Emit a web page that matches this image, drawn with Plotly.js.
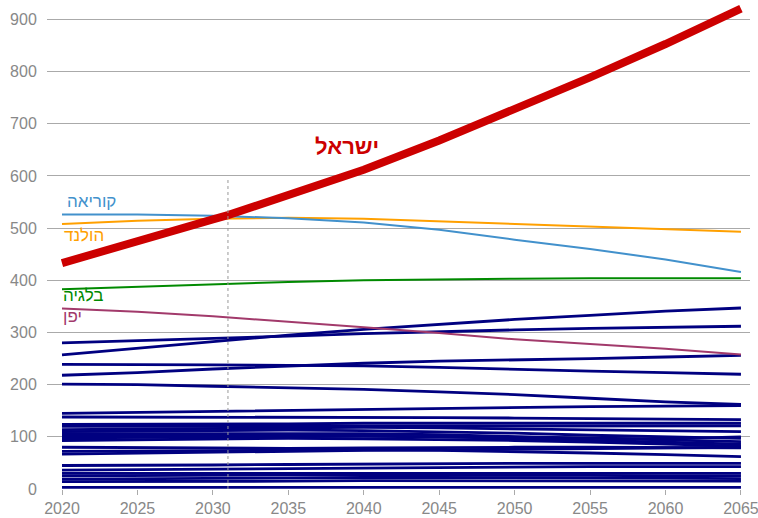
<!DOCTYPE html>
<html>
<head>
<meta charset="utf-8">
<script src="https://cdn.plot.ly/plotly-3.0.1.min.js"></script>
<style>
  body { margin: 0; background: #fff; }
  #chart { width: 758px; height: 518px; }
</style>
</head>
<body>
<div id="chart"></div>
<script>
var years = [2020, 2025, 2030, 2035, 2040, 2045, 2050, 2055, 2060, 2065];
var yearsIsrael = [2020, 2025, 2030, 2031, 2035, 2040, 2045, 2050, 2055, 2060, 2065];

var israel = [433, 477, 517, 525, 563, 612, 668, 727, 789, 853, 921];
var korea = [526, 526, 524, 519, 511, 497, 478, 460, 440, 416];
var netherlands = [508, 514, 518, 520, 518, 513, 509, 504, 499, 493];
var belgium = [383, 388, 393, 397, 400, 402, 403, 404, 404, 404];
var japan = [346, 340, 331, 321, 310, 299, 287, 278, 269, 258];

// other countries (all drawn in navy)
var others = [
  [280, 284, 288, 293, 298, 302, 305, 308, 310, 312],
  [257, 270, 283, 295, 306, 316, 325, 333, 341, 347],
  [239, 239, 238, 237, 236, 233, 229, 226, 223, 220],
  [218, 223, 230, 236, 241, 245, 247, 250, 253, 256],
  [201, 200, 197, 194, 191, 186, 181, 174, 167, 162],
  [145, 147, 149, 151, 153, 155, 156, 158, 159, 160],
  [138, 138, 138, 138, 137, 137, 136, 135, 134, 133],
  [124, 124, 125, 125, 126, 126, 126, 126, 126, 126],
  [120, 120, 121, 121, 121, 121, 121, 121, 121, 121],
  [114, 115, 117, 118, 118, 117, 115, 113, 111, 110],
  [110, 111, 112, 113, 112, 110, 107, 103, 100, 97],
  [106, 106, 107, 107, 106, 104, 101, 98, 95, 91],
  [102, 102, 103, 103, 102, 100, 97, 94, 90, 86],
  [98, 99, 100, 101, 101, 100, 99, 97, 96, 100],
  [93, 94, 96, 97, 96, 95, 93, 90, 86, 82],
  [80, 79, 78, 78, 79, 80, 80, 80, 79, 79],
  [72, 73, 74, 75, 75, 74, 72, 69, 66, 62],
  [67, 69, 71, 73, 74, 75, 76, 77, 78, 80],
  [45, 45, 46, 47, 48, 48, 49, 49, 49, 49],
  [36, 37, 38, 40, 41, 42, 42, 43, 43, 43],
  [30, 30, 31, 31, 31, 31, 30, 30, 30, 30],
  [25, 26, 27, 27, 27, 27, 26, 26, 25, 25],
  [19, 20, 21, 22, 22, 22, 22, 21, 21, 20],
  [14, 14, 15, 15, 16, 16, 16, 16, 15, 15],
  [3, 3, 3, 3, 3, 3, 3, 3, 3, 3]
];

var labels = ['ישראל', 'קוריאה', 'הולנד', 'בלגיה', 'יפן'];
var yTicks = [0, 100, 200, 300, 400, 500, 600, 700, 800, 900];
var xTicks = [2020, 2025, 2030, 2035, 2040, 2045, 2050, 2055, 2060, 2065];

var data = [];
others.forEach(function (vals) {
  data.push({
    x: years, y: vals, type: 'scatter', mode: 'lines',
    line: {color: '#000080', width: 2.8},
    hoverinfo: 'skip'
  });
});

function country(xs, ys, color, width) {
  return {
    x: xs, y: ys, type: 'scatter', mode: 'lines',
    line: {color: color, width: width},
    hoverinfo: 'skip'
  };
}

data.push(country(years, japan, '#a23a6b', 2));
data.push(country(years, belgium, '#008a00', 2));
data.push(country(years, netherlands, '#ffa000', 2));
data.push(country(years, korea, '#4291cc', 2));
data.push(country(yearsIsrael, israel, '#cc0000', 8));

var annFont = 'Arial, "Liberation Sans", sans-serif';

var layout = {
  width: 758,
  height: 518,
  margin: {l: 47, r: 8, t: 3, b: 29},
  showlegend: false,
  paper_bgcolor: '#fff',
  plot_bgcolor: '#fff',
  font: {family: annFont, size: 16, color: '#888'},
  xaxis: {
    range: [2019.006, 2065.6],
    tickvals: xTicks,
    ticks: 'outside',
    ticklen: 5,
    tickcolor: '#aaa',
    ticklabeloverflow: 'allow',
    showgrid: false,
    zeroline: false,
    showline: false,
    tickfont: {size: 16, color: '#888'},
    fixedrange: true
  },
  yaxis: {
    range: [0, 931.6],
    tickvals: yTicks,
    ticks: 'outside',
    ticklen: 6,
    tickcolor: 'rgba(0,0,0,0)',
    gridcolor: '#aaa',
    gridwidth: 1,
    zeroline: false,
    showline: false,
    tickfont: {size: 16, color: '#888'},
    fixedrange: true
  },
  shapes: [{
    type: 'line', xref: 'x', yref: 'y',
    x0: 2031, x1: 2031, y0: 0, y1: 598,
    line: {color: '#999', width: 1, dash: 'dot'},
    layer: 'above'
  }],
  annotations: [
    {x: 2038.9, y: 656, text: '<b>' + labels[0] + '</b>', showarrow: false,
     xanchor: 'center', yanchor: 'middle', font: {family: annFont, size: 22, color: '#cc0000'}},
    {x: 2020.2, y: 551, text: labels[1], showarrow: false,
     xanchor: 'left', yanchor: 'middle', font: {family: annFont, size: 17, color: '#4291cc'}},
    {x: 2020.0, y: 486, text: labels[2], showarrow: false,
     xanchor: 'left', yanchor: 'middle', font: {family: annFont, size: 17, color: '#ffa000'}},
    {x: 2019.95, y: 370, text: labels[3], showarrow: false,
     xanchor: 'left', yanchor: 'middle', font: {family: annFont, size: 17, color: '#008a00'}},
    {x: 2019.95, y: 331, text: labels[4], showarrow: false,
     xanchor: 'left', yanchor: 'middle', font: {family: annFont, size: 17, color: '#a23a6b'}}
  ]
};

Plotly.newPlot('chart', data, layout, {displayModeBar: false, staticPlot: true});
</script>
</body>
</html>
